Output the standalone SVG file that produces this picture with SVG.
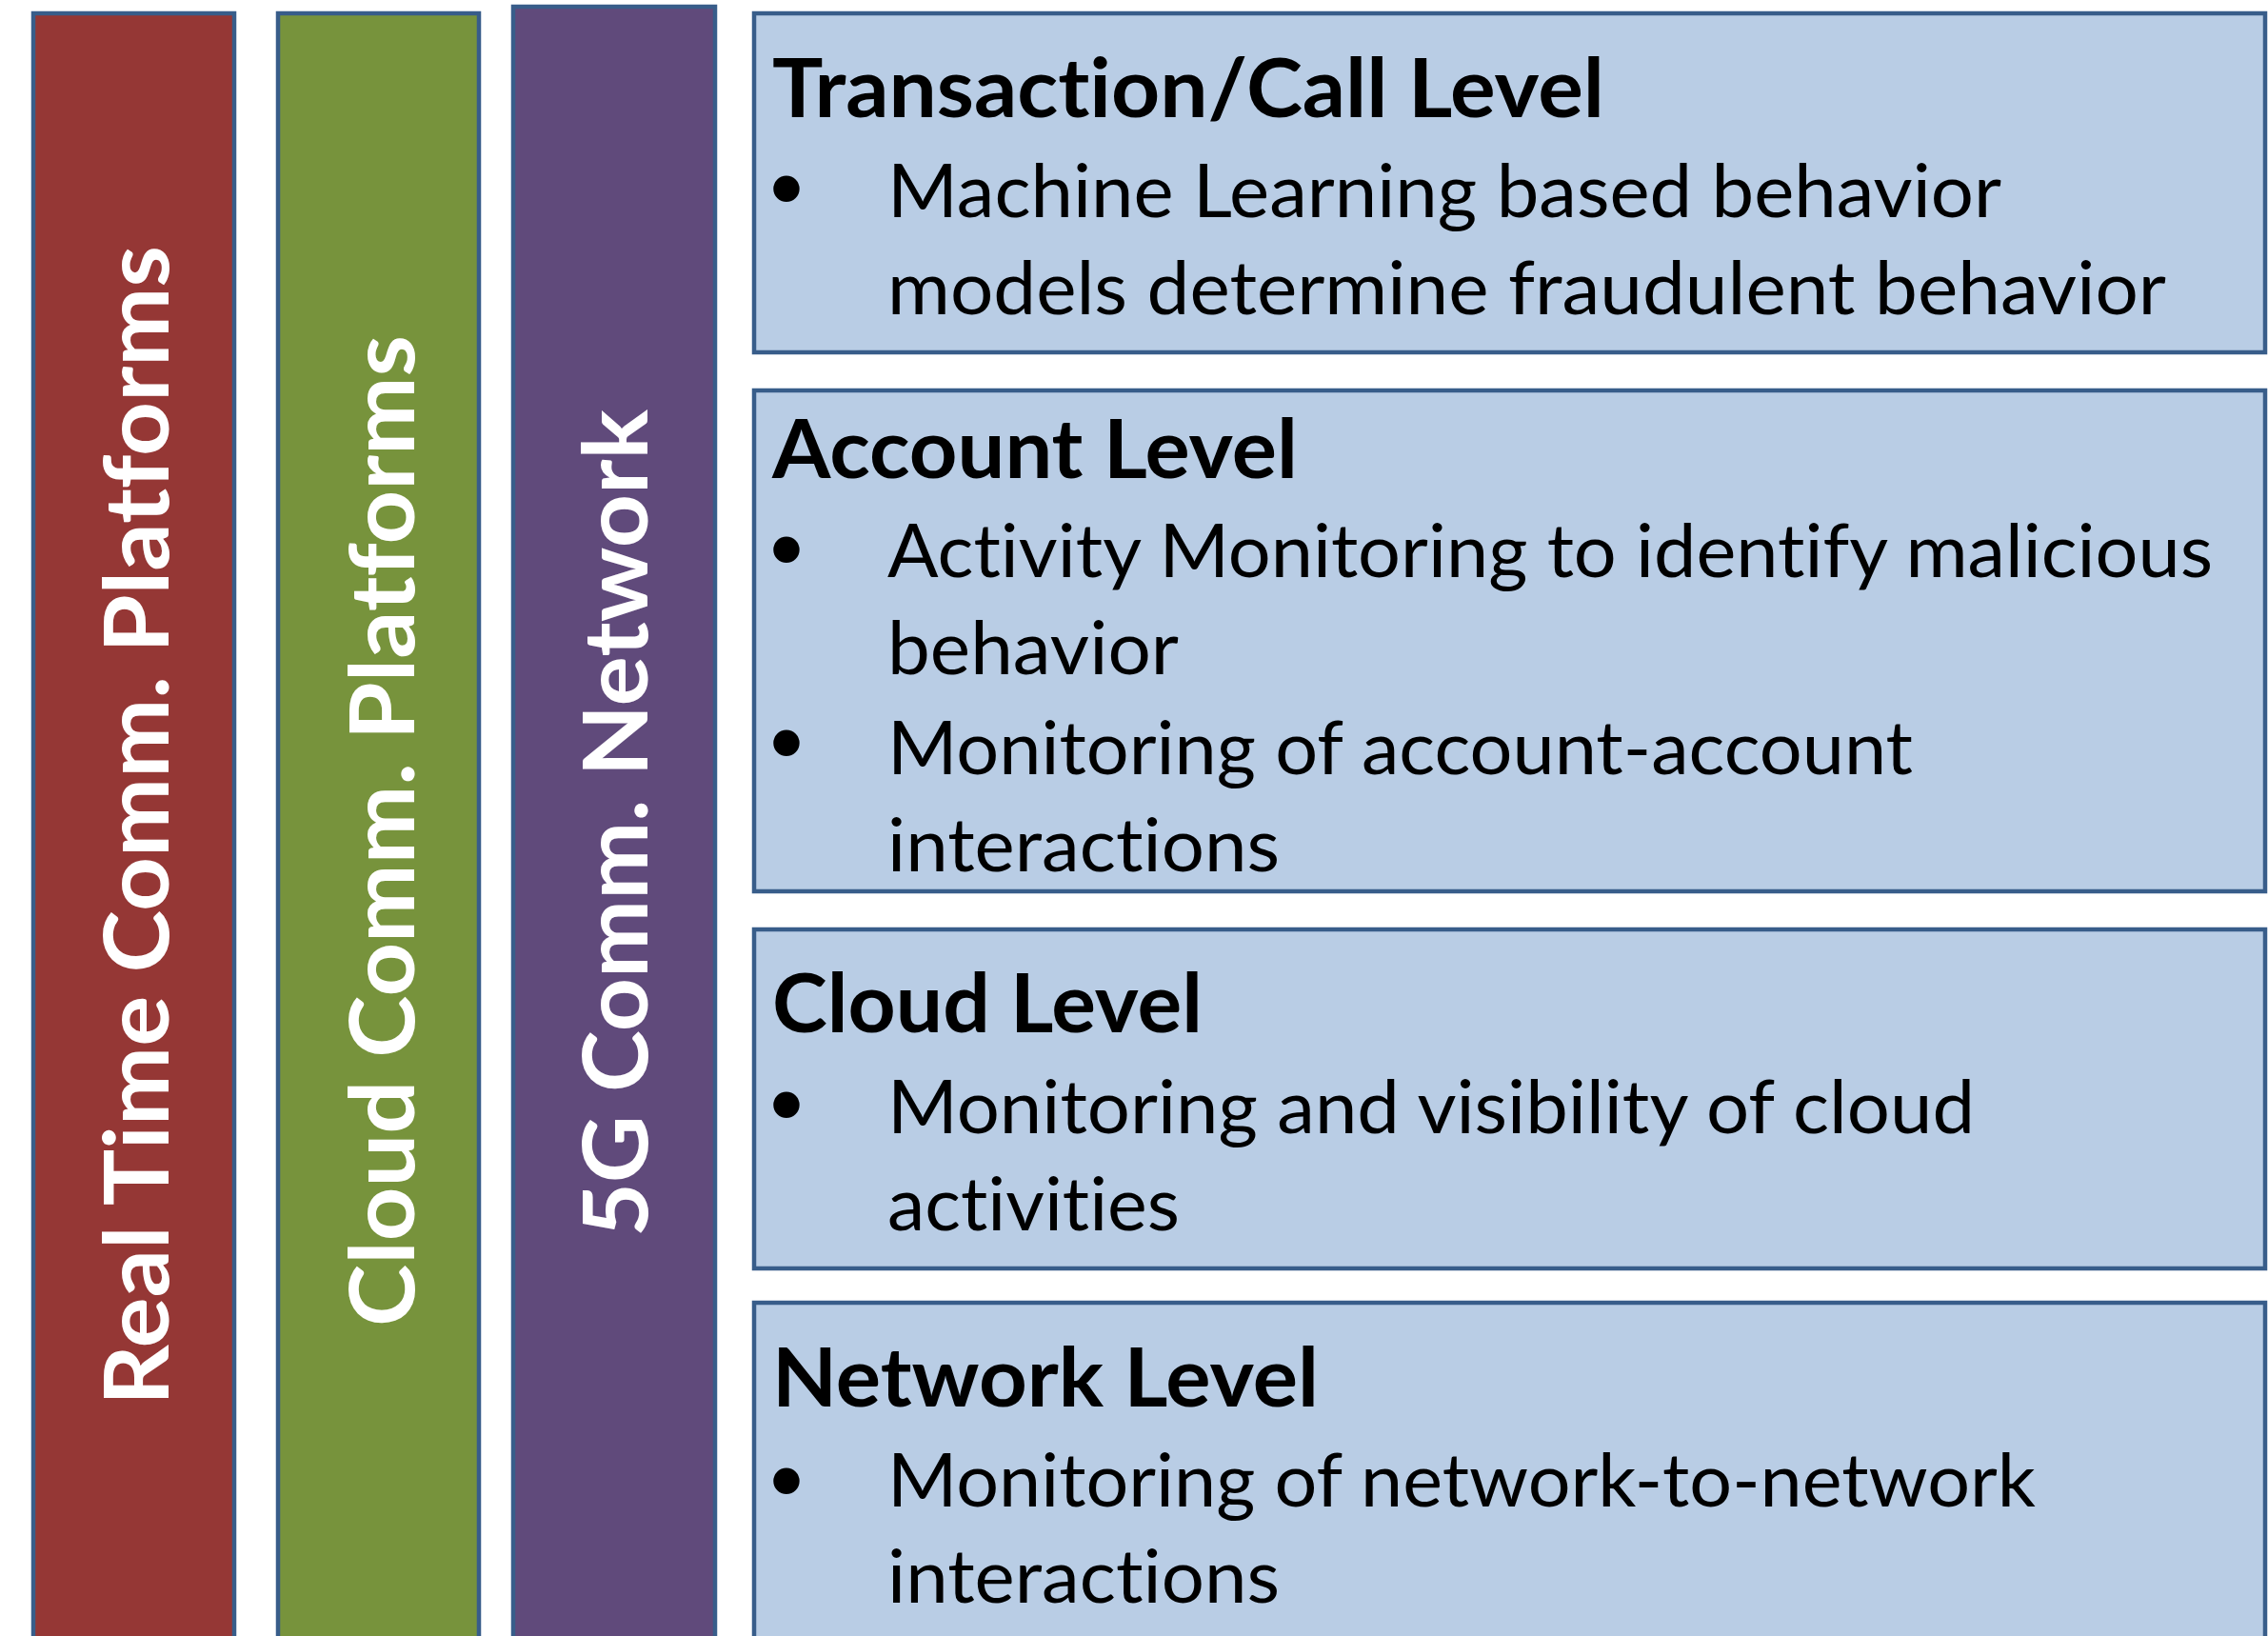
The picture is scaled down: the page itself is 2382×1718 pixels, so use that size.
<svg xmlns="http://www.w3.org/2000/svg" width="2382" height="1718" viewBox="0 0 2382 1718">
  <style>
    text { font-variant-ligatures: none; font-feature-settings: "liga" 0, "dlig" 0; }
    .col { stroke: #385D8A; stroke-width: 4.5; }
    .col-text { font-family: Lato, "Open Sans", "Liberation Sans", sans-serif; font-weight: 700; font-size: 94px; fill: #FFFFFF; }
    .box { fill: #B9CDE5; stroke: #385D8A; stroke-width: 4.5; }
    .title { font-family: Lato, "Open Sans", "Liberation Sans", sans-serif; font-weight: 700; font-size: 86px; fill: #000000; }
    .body { font-family: Lato, "Open Sans", "Liberation Sans", sans-serif; font-weight: 400; font-size: 77px; fill: #000000; }
    .bullet { font-family: Lato, "Open Sans", "Liberation Sans", sans-serif; font-size: 74px; fill: #000000; text-anchor: middle; }
  </style>
  <rect x="0" y="0" width="2382" height="1718" fill="#FFFFFF"/>

  <!-- vertical platform columns -->
  <g id="real-time-platforms">
    <rect class="col" x="35" y="14" width="211" height="1730" fill="#953735"/>
    <text class="col-text" transform="translate(177,1476) rotate(-90)" textLength="1218" lengthAdjust="spacingAndGlyphs">Real Time Comm. Platforms</text>
  </g>
  <g id="cloud-platforms">
    <rect class="col" x="292" y="14" width="211" height="1730" fill="#77933C"/>
    <text class="col-text" transform="translate(435,1393) rotate(-90)" textLength="1041" lengthAdjust="spacingAndGlyphs">Cloud Comm. Platforms</text>
  </g>
  <g id="5g-network">
    <rect class="col" x="539" y="7" width="212" height="1737" fill="#604A7B"/>
    <text class="col-text" transform="translate(680,1299) rotate(-90)" textLength="869" lengthAdjust="spacingAndGlyphs">5G Comm. Network</text>
  </g>

  <!-- monitoring levels -->
  <g id="transaction-level">
    <rect class="box" x="792" y="14" width="1587" height="356"/>
    <text class="title" x="811" y="123" textLength="874" lengthAdjust="spacingAndGlyphs">Transaction/Call Level</text>
    <text class="bullet" x="826" y="220">•</text>
    <text class="body" x="932" y="228" textLength="1170" lengthAdjust="spacingAndGlyphs">Machine Learning based behavior</text>
    <text class="body" x="932" y="330" textLength="1343" lengthAdjust="spacingAndGlyphs">models determine fraudulent behavior</text>
  </g>
  <g id="account-level">
    <rect class="box" x="792" y="410" width="1587" height="526"/>
    <text class="title" x="811" y="502" textLength="552" lengthAdjust="spacingAndGlyphs">Account Level</text>
    <text class="bullet" x="826" y="599">•</text>
    <text class="body" x="932" y="606" textLength="1392" lengthAdjust="spacingAndGlyphs">Activity Monitoring to identify malicious</text>
    <text class="body" x="932" y="708" textLength="306" lengthAdjust="spacingAndGlyphs">behavior</text>
    <text class="bullet" x="826" y="802">•</text>
    <text class="body" x="932" y="813" textLength="1077" lengthAdjust="spacingAndGlyphs">Monitoring of account-account</text>
    <text class="body" x="932" y="915" textLength="412" lengthAdjust="spacingAndGlyphs">interactions</text>
  </g>
  <g id="cloud-level">
    <rect class="box" x="792" y="976" width="1587" height="356"/>
    <text class="title" x="811" y="1084" textLength="452" lengthAdjust="spacingAndGlyphs">Cloud Level</text>
    <text class="bullet" x="826" y="1182">•</text>
    <text class="body" x="932" y="1190" textLength="1142" lengthAdjust="spacingAndGlyphs">Monitoring and visibility of cloud</text>
    <text class="body" x="932" y="1292" textLength="307" lengthAdjust="spacingAndGlyphs">activities</text>
  </g>
  <g id="network-level">
    <rect class="box" x="792" y="1368" width="1587" height="380"/>
    <text class="title" x="811" y="1477" textLength="574" lengthAdjust="spacingAndGlyphs">Network Level</text>
    <text class="bullet" x="826" y="1577">•</text>
    <text class="body" x="932" y="1582" textLength="1206" lengthAdjust="spacingAndGlyphs">Monitoring of network-to-network</text>
    <text class="body" x="932" y="1683" textLength="412" lengthAdjust="spacingAndGlyphs">interactions</text>
  </g>

  <!-- no connectors in this layout -->
  <g id="connectors"/>
</svg>
